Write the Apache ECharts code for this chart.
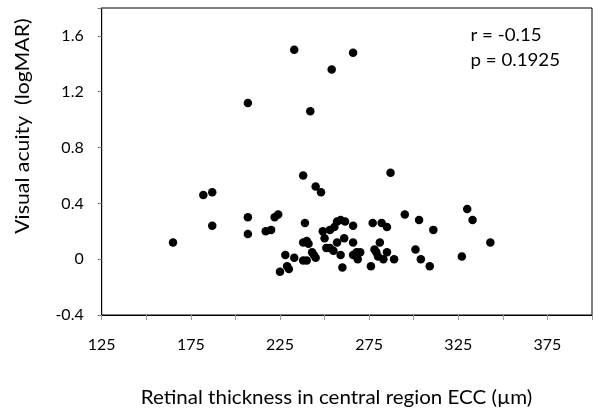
<!DOCTYPE html>
<html><head><meta charset="utf-8">
<script src="https://cdn.jsdelivr.net/npm/echarts@6/dist/echarts.min.js"></script>
<style>html,body{margin:0;padding:0;background:#fff}#c{width:602px;height:415px}</style>
</head><body><div id="c"></div>
<script>
const thickness = [233,266,254,207,242,238,245,248,182,187,187,165,207,207,222,224,217,220,239,228,233,225,229,230,238,240,238,240,241,243,244,245,249,250,253,255.5,257,259,261.5,266,261,257,251,253,255,259,260,266,266,268.6,287,295,303,311,330,333,343,327,301,304,309,277,282,285,268,270,276,281,278,279,280,283,285,289];
const acuity = [1.50,1.48,1.36,1.12,1.06,0.60,0.52,0.48,0.46,0.48,0.24,0.12,0.30,0.18,0.30,0.32,0.20,0.21,0.26,0.03,0.01,-0.09,-0.05,-0.07,-0.01,-0.01,0.12,0.13,0.11,0.05,0.03,0.01,0.20,0.15,0.21,0.23,0.27,0.28,0.27,0.24,0.15,0.12,0.08,0.08,0.06,0.03,-0.06,0.12,0.03,0.00,0.62,0.32,0.28,0.21,0.36,0.28,0.12,0.02,0.07,0.00,-0.05,0.26,0.26,0.23,0.05,0.05,-0.05,0.12,0.07,0.05,0.02,0.00,0.05,0.00];
const xTitle = 'Retinal thickness in central region ECC (µm)';
const yTitle = 'Visual acuity  (logMAR)';
const statLines = ['r = -0.15', 'p = 0.1925'];

const font = 'Lato, "Open Sans", sans-serif';
const chart = echarts.init(document.getElementById('c'), null, {renderer: 'canvas'});
chart.setOption({
  animation: false,
  grid: {left: 101.7, right: 10, top: 8, bottom: 100, show: true, borderColor: '#000', borderWidth: 1},
  xAxis: {
    type: 'value', min: 125, max: 400, interval: 25,
    axisLine: {onZero: false, lineStyle: {color: '#000', width: 1}},
    axisTick: {show: true, length: 5, lineStyle: {color: '#999'}},
    splitLine: {show: false},
    axisLabel: {margin: 22, color: '#000', fontFamily: font, fontSize: 16,
      formatter: v => (v % 50 === 25 ? String(v) : '')}
  },
  yAxis: {
    type: 'value', min: -0.4, max: 1.8, interval: 0.4,
    axisLine: {show: true, onZero: false, lineStyle: {color: '#000', width: 1}},
    axisTick: {show: true, length: 4, lineStyle: {color: '#777'}},
    splitLine: {show: false},
    axisLabel: {margin: 18, color: '#000', fontFamily: font, fontSize: 16,
      formatter: v => (Math.abs(v - 1.8) < 1e-6 ? '' : String(Math.round(v * 10) / 10))}
  },
  series: [{
    type: 'scatter', symbol: 'circle', symbolSize: 8.5,
    itemStyle: {color: '#000', opacity: 1},
    data: thickness.map((t, i) => [t, acuity[i]])
  }],
  graphic: [
    {type: 'text', x: 22.5, y: 126, rotation: Math.PI / 2, scaleX: 1.12,
      style: {text: yTitle, fill: '#000', font: '19px ' + font, align: 'center', verticalAlign: 'middle'}},
    {type: 'text', x: 336.5, y: 398, scaleX: 1.08,
      style: {text: xTitle, fill: '#000', font: '19px ' + font, align: 'center', verticalAlign: 'middle'}},
    {type: 'text', x: 470.5, y: 36, scaleX: 1.1,
      style: {text: statLines[0], fill: '#000', font: '17px ' + font, align: 'left', verticalAlign: 'middle'}},
    {type: 'text', x: 470.5, y: 61, scaleX: 1.1,
      style: {text: statLines[1], fill: '#000', font: '17px ' + font, align: 'left', verticalAlign: 'middle'}}
  ]
});
</script></body></html>
